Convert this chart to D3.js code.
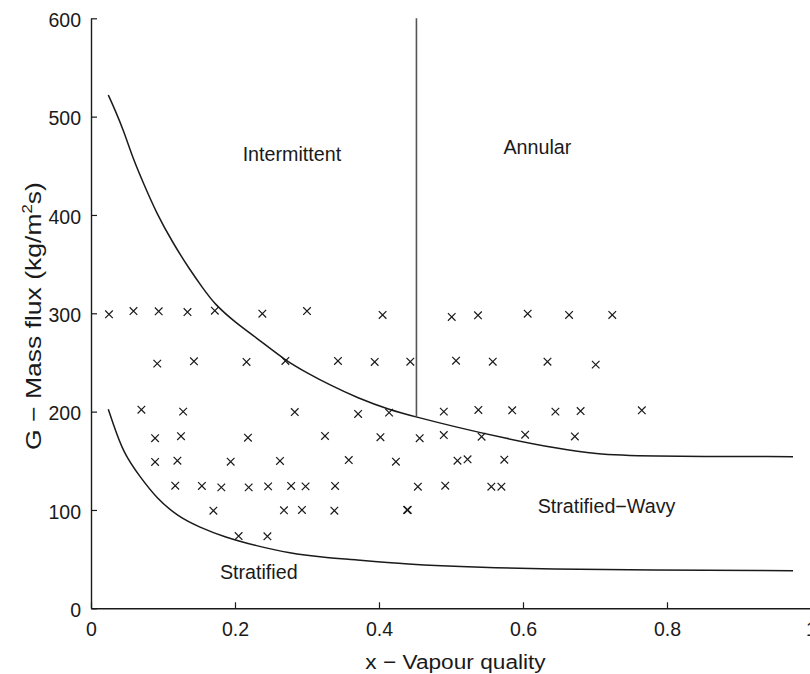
<!DOCTYPE html>
<html>
<head>
<meta charset="utf-8">
<script src="https://cdn.jsdelivr.net/npm/d3@7"></script>
<style>
  html, body { margin: 0; padding: 0; background: #fff; }
  svg { display: block; font-family: "Liberation Sans", Arial, Helvetica, sans-serif; }
</style>
</head>
<body>
<svg id="chart" width="810" height="674"></svg>
<script>
// ---------- data ----------
const xTicks = [0, 0.2, 0.4, 0.6, 0.8, 1];
const xTickLabels = ["0", "0.2", "0.4", "0.6", "0.8", "1"];
const yTicks = [0, 100, 200, 300, 400, 500, 600];
const yTickLabels = ["0", "100", "200", "300", "400", "500", "600"];

// measured points (vapour quality, mass flux)
const pointX = [
  0.025, 0.059, 0.094, 0.134, 0.172, 0.238, 0.300, 0.405, 0.501, 0.5375, 0.6065, 0.664, 0.724,
  0.092, 0.143, 0.216, 0.270, 0.343, 0.394, 0.4435, 0.507, 0.558, 0.634, 0.701,
  0.070, 0.128, 0.283, 0.371, 0.414, 0.490, 0.538, 0.585, 0.645, 0.680, 0.765,
  0.089, 0.125, 0.218, 0.325, 0.402, 0.4565, 0.490, 0.5425, 0.603, 0.672,
  0.089, 0.120, 0.194, 0.2625, 0.358, 0.4235, 0.509, 0.523, 0.574,
  0.117, 0.154, 0.181, 0.219, 0.246, 0.278, 0.298, 0.339, 0.454, 0.492, 0.556, 0.570,
  0.170, 0.268, 0.293, 0.338, 0.439, 0.440,
  0.205, 0.245
];
const pointG = [
  299, 302.3, 302, 301.3, 302.6, 299.6, 302.3, 298.3, 296.3, 298, 299.6, 298.3, 298.3,
  248.8, 251.2, 250.5, 251.5, 251.5, 250.5, 250.8, 251.8, 250.8, 250.8, 247.8,
  202, 200, 199.6, 197.6, 199, 200, 201.7, 201.4, 200, 200.6, 201.4,
  173, 175, 173.5, 175.3, 174, 173, 176.2, 174.5, 176.5, 174.8,
  148.8, 150.1, 149.1, 149.8, 150.8, 149.1, 150.1, 151.5, 151.1,
  124.7, 124.4, 123, 123, 124, 124.4, 124, 124.4, 123.7, 124.7, 123.7, 123.7,
  99.3, 99.7, 100, 99.3, 100, 100,
  73.5, 73.2
];

// boundary: intermittent/annular vs stratified-wavy
const upperX = [0.024, 0.033, 0.045, 0.059, 0.073, 0.091, 0.114, 0.1375, 0.155, 0.172, 0.200,
                0.230, 0.270, 0.300, 0.332, 0.370, 0.414, 0.452, 0.503, 0.577, 0.651, 0.700,
                0.760, 0.975];
const upperG = [522, 507.5, 486.4, 456, 432, 401.7, 371.2, 344, 326, 309, 291,
                275, 252, 239.5, 227, 214, 202, 194.5, 185, 172.5, 162, 157,
                154.5, 154.2];

// boundary: stratified-wavy vs stratified
const lowerX = [0.024, 0.029, 0.045, 0.068, 0.091, 0.121, 0.151, 0.184, 0.230, 0.276,
                0.323, 0.360, 0.4385, 0.531, 0.693, 0.975];
const lowerG = [202.4, 191.5, 157.6, 133.8, 111.9, 93.2, 82.4, 72.8, 63.4, 55.9,
                51.9, 49.8, 44.7, 41.7, 39, 38.3];

// intermittent / annular transition
const transitionX = [0.452, 0.452];
const transitionG = [194.5, 600];

const regionNames = ["Intermittent", "Annular", "Stratified\u2212Wavy", "Stratified"];
const regionX = [0.279, 0.620, 0.716, 0.233];
const regionG = [455, 462.5, 96.6, 29.9];

const xLabel = "x \u2212 Vapour quality";

// ---------- layout ----------
const svg = d3.select("#chart");
const x = d3.scaleLinear().domain([0, 1]).range([91, 811]);
const y = d3.scaleLinear().domain([0, 600]).range([608.3, 18.3]);
const ink = "#1a1a1a";

// axes
const xAxis = d3.axisBottom(x).tickValues(xTicks).tickFormat((d, i) => xTickLabels[i])
  .tickSizeInner(-6).tickSizeOuter(0).tickPadding(14);
const yAxis = d3.axisLeft(y).tickValues(yTicks).tickFormat((d, i) => yTickLabels[i])
  .tickSizeInner(-6).tickSizeOuter(0).tickPadding(10);

const gx = svg.append("g").attr("transform", `translate(0,${y(0)})`).call(xAxis);
const gy = svg.append("g").attr("transform", `translate(${x(0)},0)`).call(yAxis);
[gx, gy].forEach(g => {
  g.select(".domain").attr("stroke", ink).attr("stroke-width", 1.4);
  g.selectAll(".tick line").attr("stroke", ink).attr("stroke-width", 1.2);
  g.selectAll(".tick text").attr("fill", ink).attr("font-size", 19.5)
    .attr("font-family", "'Liberation Sans', Arial, sans-serif");
});
gx.selectAll(".tick text").attr("dy", "0.71em");
gy.selectAll(".tick text").attr("dy", "0.42em");

// axis titles
const xl = svg.append("text")
  .attr("text-anchor", "middle").attr("font-size", 21).attr("fill", ink)
  .text(xLabel);
const xw = xl.node().getBBox().width;
xl.attr("transform", `translate(455.5,669) scale(${181 / xw},1)`);

const yl = svg.append("text")
  .attr("text-anchor", "middle").attr("font-size", 22).attr("fill", ink);
yl.append("tspan").text("G \u2212 Mass flux (kg/m");
yl.append("tspan").attr("font-size", 14).attr("dy", -9).text("2");
yl.append("tspan").attr("dy", 9).text("s)");
const yw = yl.node().getBBox().width;
yl.attr("transform", `translate(41,316) rotate(-90) scale(${268 / yw},1)`);

// curves
const line = d3.line().x(d => x(d[0])).y(d => y(d[1])).curve(d3.curveBasis);
svg.append("path").datum(upperX.map((v, i) => [v, upperG[i]]))
  .attr("d", line).attr("fill", "none").attr("stroke", ink).attr("stroke-width", 1.5);
svg.append("path").datum(lowerX.map((v, i) => [v, lowerG[i]]))
  .attr("d", line).attr("fill", "none").attr("stroke", ink).attr("stroke-width", 1.5);

svg.append("path").datum(transitionX.map((v, i) => [v, transitionG[i]]))
  .attr("d", d3.line().x(d => x(d[0])).y(d => y(d[1])))
  .attr("fill", "none").attr("stroke", "#555").attr("stroke-width", 1.6);

// markers
const s = 3.8;
svg.append("g").selectAll("path").data(pointX.map((v, i) => [v, pointG[i]]))
  .join("path")
  .attr("transform", d => `translate(${x(d[0])},${y(d[1])})`)
  .attr("d", `M${-s},${-s}L${s},${s}M${s},${-s}L${-s},${s}`)
  .attr("stroke", ink).attr("stroke-width", 1.2).attr("fill", "none");

// region labels
svg.append("g").selectAll("text").data(regionNames).join("text")
  .attr("x", (d, i) => x(regionX[i]))
  .attr("y", (d, i) => y(regionG[i]))
  .attr("text-anchor", "middle").attr("font-size", 19.7).attr("fill", ink)
  .text(d => d);
</script>
</body>
</html>
